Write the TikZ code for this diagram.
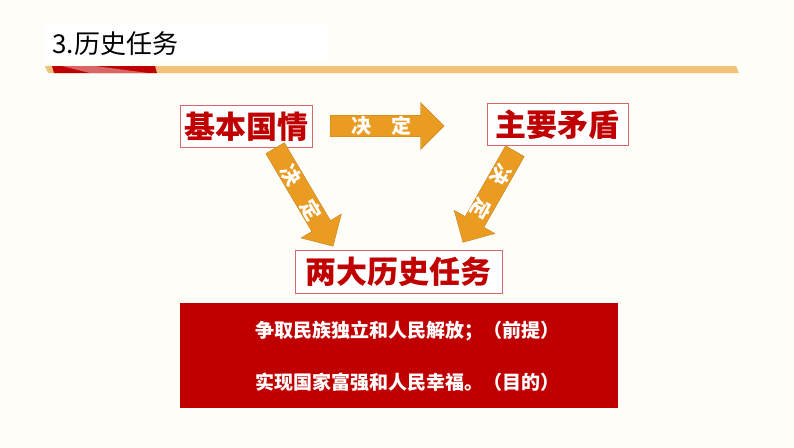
\documentclass[tikz,border=0pt]{standalone}
\usepackage{fontspec}
\setmainfont{Noto Sans CJK SC}
\usetikzlibrary{shapes.arrows}
\definecolor{dred}{HTML}{C00000}
\definecolor{arr}{HTML}{E99B22}
\definecolor{stripe}{HTML}{F3C27A}
\definecolor{bg}{HTML}{FFFDF8}
\begin{document}
\begin{tikzpicture}[x=1pt,y=-1pt,
  kbox/.style={draw=dred!60,line width=0.8pt,fill=white,text=dred,font=\fontsize{31}{33}\selectfont\bfseries,inner sep=0pt,anchor=north west},
  garrow/.style={single arrow,fill=arr,draw=arr!80!black,line width=0.3pt,minimum width=47pt,single arrow head extend=11.5pt,single arrow head indent=0pt,text=white,font=\fontsize{20}{20}\selectfont\bfseries,inner sep=0pt,anchor=tail}]
\fill[bg] (0,0) rectangle (794,447);
\useasboundingbox (0,0) rectangle (794,447);
\fill[white] (45,24) rectangle (328,62);
\node[anchor=west,font=\fontsize{26}{26}\selectfont] (title) at (49,44) {3.历史任务};
\fill[stripe] (45,66) -- (736,66) -- (739,73) -- (48,73) -- cycle;
\fill[dred] (52,66) -- (155,66) -- (157,73) -- (54,73) -- cycle;
\fill[white,opacity=0.4] (62,66) -- (95,66) -- (148,73) -- (90,73) -- cycle;
\node[kbox,minimum width=132pt,minimum height=42pt] (a) at (180,105) {基本国情};
\node[kbox,minimum width=141pt,minimum height=42pt] (b) at (487,103) {主要矛盾};
\node[kbox,minimum width=207pt,minimum height=43pt] (c) at (295,250) {两大历史任务\hspace{12pt}};
\node[garrow,minimum height=114pt] (h) at (330,126) {决\quad 定\hspace{18pt}};
\node[garrow,minimum height=114pt,rotate=-59.4] (l) at (275,148) {决\quad 定\hspace{18pt}};
\node[garrow,minimum height=105pt,rotate=-119.7] (r) at (515,151) {决\quad 定\hspace{18pt}};
\fill[dred] (180,303) rectangle (618,408);
\node[text=white,font=\fontsize{19}{19}\selectfont\bfseries] (t1) at (407,331) {争取民族独立和人民解放；（前提）};
\node[text=white,font=\fontsize{19}{19}\selectfont\bfseries] (t2) at (407,382) {实现国家富强和人民幸福。（目的）};
\end{tikzpicture}
\end{document}
